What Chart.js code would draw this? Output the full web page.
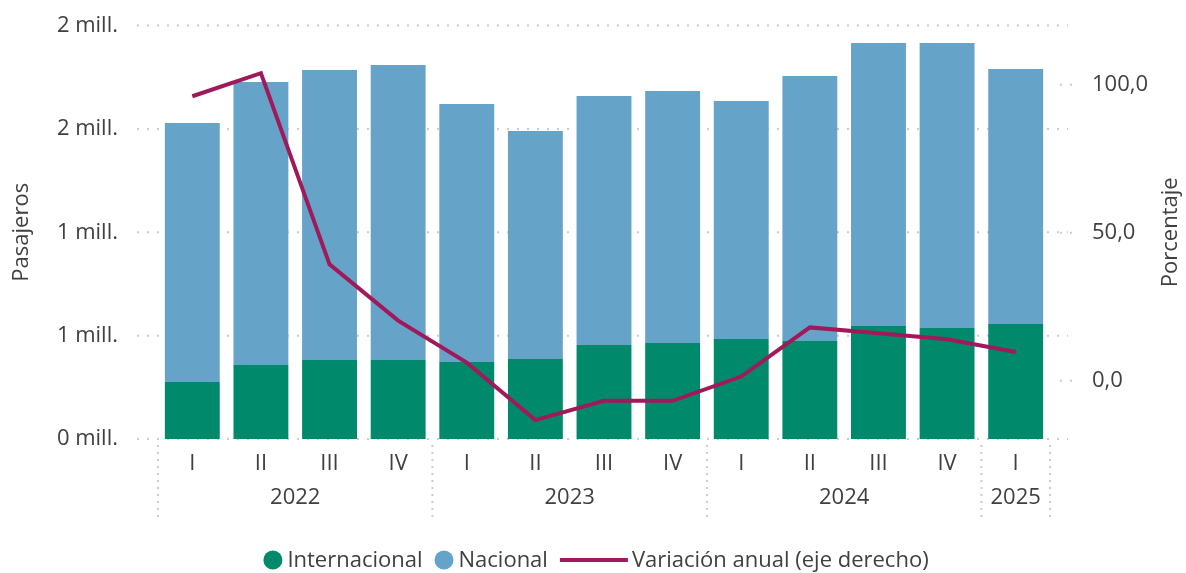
<!DOCTYPE html>
<html lang="es">
<head>
<meta charset="utf-8">
<title>Pasajeros por trimestre</title>
<script src="https://cdn.jsdelivr.net/npm/chart.js@4.4.1/dist/chart.umd.min.js"></script>
<style>
  html, body { margin: 0; padding: 0; background: #fff; }
  #contenedor { width: 1186px; height: 573px; }
</style>
</head>
<body>
<div id="contenedor"><canvas id="grafico"></canvas></div>
<script>
// Datos (pasajeros por trimestre)
const trimestres = ['I', 'II', 'III', 'IV', 'I', 'II', 'III', 'IV', 'I', 'II', 'III', 'IV', 'I'];
const anios = ['2022', '2023', '2024', '2025'];
const trimestresPorAnio = [4, 4, 4, 1];
const internacional = [276000, 358000, 382000, 382000, 372000, 387000, 455000, 464000, 484000, 474000, 547000, 537000, 556000];
const nacional = [1252000, 1369000, 1403000, 1427000, 1248000, 1103000, 1204000, 1219000, 1151000, 1282000, 1368000, 1378000, 1234000];
const variacionAnual = [96.1, 103.9, 39.3, 20.3, 6.1, -13.3, -6.8, -6.8, 1.4, 18.0, 16.0, 14.0, 9.7];
const ticksPasajeros = ['0 mill.', '1 mill.', '1 mill.', '2 mill.', '2 mill.'];
const ticksPorcentaje = [0, 50, 100];

const colorIntl = '#00896A';
const colorNac = '#66A3C8';
const colorLinea = '#A0195A';
const colorTexto = '#404040';
const colorGuia = '#cccccc';
const fuente = "'Open Sans', 'Noto Sans', sans-serif";

Chart.defaults.font.family = fuente;
Chart.defaults.font.size = 22;
Chart.defaults.color = colorTexto;

// lineas punteadas, años, separadores, titulo derecho y leyenda
const decoracion = {
  id: 'decoracion',
  beforeDatasetsDraw(chart) {
    const { ctx, scales: { x, y, y1 } } = chart;
    ctx.save();
    ctx.strokeStyle = colorGuia;
    ctx.lineWidth = 2;
    ctx.setLineDash([2, 8]);
    y.ticks.forEach((t, i) => {
      const py = y.getPixelForTick(i);
      ctx.beginPath();
      ctx.moveTo(x.left - 21, py);
      ctx.lineTo(x.right + 18, py);
      ctx.stroke();
    });
    y1.ticks.forEach((t, i) => {
      const py = y1.getPixelForTick(i);
      ctx.beginPath();
      ctx.moveTo(x.right + 10, py);
      ctx.lineTo(x.right + 23, py);
      ctx.stroke();
    });
    ctx.restore();
  },
  afterDraw(chart) {
    const { ctx, scales: { x, y } } = chart;
    const ancho = (x.right - x.left) / trimestres.length;
    ctx.save();

    // separadores entre años
    const cortes = [0];
    trimestresPorAnio.forEach(n => cortes.push(cortes[cortes.length - 1] + n));
    ctx.strokeStyle = colorGuia;
    ctx.lineWidth = 2;
    ctx.setLineDash([2, 5]);
    cortes.forEach(c => {
      const px = x.left + c * ancho;
      ctx.beginPath();
      ctx.moveTo(px, y.bottom + 6);
      ctx.lineTo(px, y.bottom + 79);
      ctx.stroke();
    });
    ctx.setLineDash([]);

    ctx.fillStyle = colorTexto;
    ctx.font = '22px ' + fuente;
    ctx.textAlign = 'center';
    ctx.textBaseline = 'middle';
    anios.forEach((a, i) => {
      const cx = x.left + (cortes[i] + cortes[i + 1]) / 2 * ancho;
      ctx.fillText(a, cx, y.bottom + 58.5);
    });

    // titulo del eje derecho (se lee de abajo hacia arriba)
    ctx.save();
    ctx.translate(1171, (y.top + y.bottom) / 2);
    ctx.rotate(-Math.PI / 2);
    ctx.fillText('Porcentaje', 0, 0);
    ctx.restore();

    // leyenda
    ctx.textAlign = 'left';
    const ly = 560;
    const elementos = chart.data.datasets.map(ds => {
      const marca = ds.type === 'line' ? 68 : 19;
      const sep = ds.type === 'line' ? 4 : 5;
      return { ds, marca, sep, w: marca + sep + ctx.measureText(ds.label).width };
    });
    const hueco = 12;
    const total = elementos.reduce((s, e) => s + e.w, 0) + hueco * (elementos.length - 1);
    let lx = chart.width / 2 + 3 - total / 2;
    elementos.forEach(e => {
      if (e.ds.type === 'line') {
        ctx.strokeStyle = e.ds.borderColor;
        ctx.lineWidth = 4;
        ctx.beginPath();
        ctx.moveTo(lx, ly);
        ctx.lineTo(lx + e.marca, ly);
        ctx.stroke();
      } else {
        ctx.fillStyle = e.ds.backgroundColor;
        ctx.beginPath();
        ctx.arc(lx + e.marca / 2, ly, e.marca / 2, 0, Math.PI * 2);
        ctx.fill();
      }
      ctx.fillStyle = colorTexto;
      ctx.fillText(e.ds.label, lx + e.marca + e.sep, ly + 1);
      lx += e.w + hueco;
    });
    ctx.restore();
  }
};

// ancho fijo de los ejes verticales, sin el relleno extra de las etiquetas
const ajustarEje = ancho => s => {
  s.width = ancho;
  s.paddingTop = 0;
  s.paddingBottom = 0;
};

const ctx = document.getElementById('grafico').getContext('2d');
const grafico = new Chart(ctx, {
  type: 'bar',
  data: {
    labels: trimestres,
    datasets: [{
      type: 'bar',
      label: 'Internacional',
      data: internacional,
      backgroundColor: colorIntl,
      stack: 'pasajeros',
      yAxisID: 'y',
      order: 1,
    }, {
      type: 'bar',
      label: 'Nacional',
      data: nacional,
      backgroundColor: colorNac,
      stack: 'pasajeros',
      yAxisID: 'y',
      order: 1,
    }, {
      type: 'line',
      label: 'Variación anual (eje derecho)',
      data: variacionAnual,
      borderColor: colorLinea,
      backgroundColor: colorLinea,
      borderWidth: 4,
      pointRadius: 0,
      tension: 0,
      yAxisID: 'y1',
      order: 0,
    }]
  },
  options: {
    responsive: true,
    maintainAspectRatio: false,
    animation: false,
    barPercentage: 0.8,
    categoryPercentage: 1.0,
    layout: {
      padding: { top: 25.5, bottom: 0, left: 0, right: 0 }
    },
    plugins: {
      legend: { display: false },
      tooltip: { enabled: false },
    },
    scales: {
      x: {
        stacked: true,
        grid: { display: false, drawTicks: false },
        border: { display: false },
        ticks: { padding: 12, maxRotation: 0, autoSkip: false },
        afterFit: s => { s.height = 134; },
      },
      y: {
        position: 'left',
        stacked: true,
        min: 0,
        max: 2000000,
        grid: { display: false, drawTicks: false },
        border: { display: false },
        ticks: {
          stepSize: 500000,
          padding: 40,
          callback: (v, i) => ticksPasajeros[i],
        },
        title: {
          display: true,
          text: 'Pasajeros',
          padding: { top: 9, bottom: 0 },
        },
        afterFit: ajustarEje(158),
      },
      y1: {
        position: 'right',
        min: -19.7,
        max: 120,
        grid: { display: false, drawTicks: false },
        border: { display: false },
        ticks: {
          padding: 42,
          callback: v => v.toFixed(1).replace('.', ','),
        },
        afterBuildTicks: s => { s.ticks = ticksPorcentaje.map(v => ({ value: v })); },
        afterFit: ajustarEje(136),
      }
    }
  },
  plugins: [decoracion]
});
</script>
</body>
</html>
